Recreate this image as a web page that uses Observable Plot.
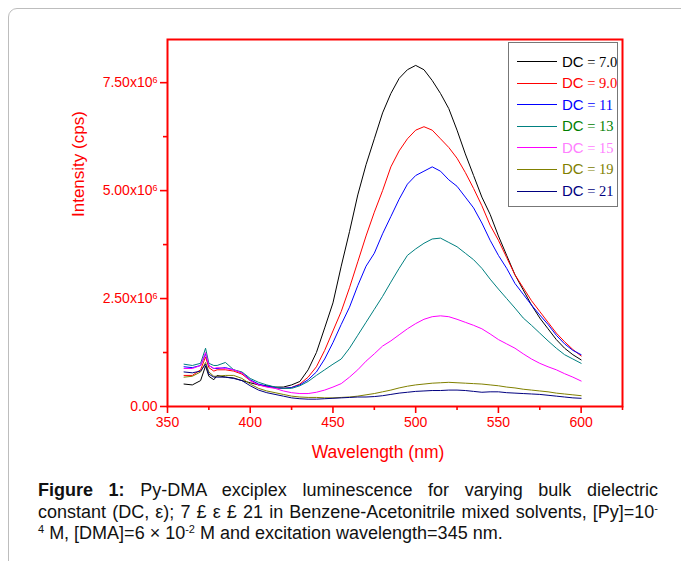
<!DOCTYPE html>
<html>
<head>
<meta charset="utf-8">
<script src="https://cdn.jsdelivr.net/npm/d3@7"></script>
<script src="https://cdn.jsdelivr.net/npm/@observablehq/plot@0.6"></script>
<style>
  html, body { margin: 0; padding: 0; }
  body { width: 681px; height: 561px; overflow: hidden; background: #fff; position: relative;
         font-family: "Liberation Sans", Arial, sans-serif; }
  #frame { position: absolute; left: 8px; top: 8px; width: 740px; height: 620px;
           border: 1.5px solid #bdbdbd; border-radius: 9px; }
  #chart { position: absolute; left: 0; top: 0; }
  #legend { position: absolute; left: 508px; top: 42px; width: 110px; height: 165px;
            border: 1px solid #777; box-sizing: border-box; background: #fff; }
  .row { position: absolute; left: 0; height: 20px; display: flex; align-items: center; white-space: nowrap; }
  .swatch { width: 40px; height: 1px; margin-left: 8px; margin-right: 5px; }
  .dc { font-family: "Liberation Sans", Arial, sans-serif; font-size: 15px; }
  .eq { font-family: "Liberation Serif", "Times New Roman", serif; font-size: 14.5px; }
  #caption { position: absolute; left: 38px; top: 480px; width: 620px; color: #111;
             font-family: "Liberation Sans", Arial, sans-serif;
             font-size: 18px; line-height: 21.5px; }
  #caption .ln { white-space: nowrap; }
  #caption .j { text-align: justify; text-align-last: justify; }
  #caption sup { font-size: 11px; vertical-align: 6px; line-height: 0; }
</style>
</head>
<body>
<div id="frame"></div>
<div id="chart"></div>
<div id="legend"></div>
<div id="caption">
  <div class="ln j"><b>Figure 1:</b> Py-DMA exciplex luminescence for varying bulk dielectric</div>
  <div class="ln j">constant (DC, ε); 7 £ ε £ 21 in Benzene-Acetonitrile mixed solvents, [Py]=10<sup>-</sup></div>
  <div class="ln"><sup>4</sup> M, [DMA]=6 × 10<sup>-2</sup> M and excitation wavelength=345 nm.</div>
</div>
<script>
// Wavelength (nm) sample points
const wavelengths = [360,365,370,373,375,378,380,385,390,395,400,405,410,415,
  420,425,430,435,440,445,450,455,460,465,470,475,480,485,490,495,500,505,510,515,520,
  525,530,535,540,545,550,555,560,565,570,575,580,585,590,595,600];

// Intensities in units of 1e6 cps
const dc7 = [0.52,0.50,0.60,0.94,0.70,0.62,0.72,0.68,0.66,0.60,0.55,0.50,0.48,0.45,
  0.45,0.50,0.58,0.85,1.25,1.82,2.4,3.25,4.05,4.9,5.6,6.2,6.8,7.25,7.6,7.8,7.9,7.8,7.55,7.25,6.9,
  6.4,5.85,5.35,4.85,4.45,3.95,3.5,3.05,2.7,2.35,2.05,1.8,1.55,1.35,1.2,1.08];
const dc9 = [0.72,0.72,0.85,1.15,0.90,0.82,0.85,0.85,0.82,0.75,0.60,0.50,0.46,0.43,
  0.42,0.44,0.52,0.68,0.92,1.3,1.75,2.2,2.75,3.35,3.95,4.5,5.0,5.55,5.92,6.2,6.4,6.48,6.4,6.2,6.0,
  5.75,5.42,5.05,4.65,4.2,3.85,3.45,3.05,2.75,2.45,2.2,1.95,1.7,1.5,1.32,1.17];
const dc11 = [0.92,0.90,0.95,1.22,0.95,0.88,0.88,0.90,0.85,0.78,0.62,0.52,0.47,0.44,
  0.42,0.44,0.50,0.62,0.80,1.1,1.48,1.9,2.3,2.8,3.25,3.55,4.0,4.4,4.8,5.15,5.35,5.45,5.55,5.45,5.25,
  5.1,4.85,4.6,4.25,3.85,3.5,3.2,2.85,2.6,2.35,2.12,1.9,1.65,1.45,1.3,1.2];
const dc13 = [0.98,0.95,1.00,1.35,1.00,0.95,0.95,1.02,0.85,0.80,0.65,0.56,0.50,0.45,
  0.42,0.42,0.48,0.58,0.72,0.85,0.98,1.1,1.35,1.65,1.95,2.25,2.55,2.88,3.2,3.5,3.65,3.78,3.88,3.9,3.8,
  3.7,3.55,3.4,3.2,2.95,2.72,2.5,2.28,2.05,1.88,1.7,1.52,1.35,1.2,1.1,1.0];
const dc15 = [0.88,0.88,0.95,1.25,0.95,0.88,0.90,0.88,0.85,0.78,0.60,0.50,0.45,0.42,
  0.36,0.32,0.30,0.30,0.33,0.38,0.45,0.53,0.68,0.85,1.05,1.22,1.4,1.52,1.66,1.8,1.92,2.02,2.08,2.1,2.08,
  2.02,1.95,1.88,1.8,1.68,1.55,1.45,1.35,1.22,1.1,1.0,0.92,0.85,0.76,0.68,0.59];
const dc19 = [0.68,0.70,0.80,1.02,0.80,0.70,0.70,0.72,0.72,0.65,0.52,0.42,0.36,0.32,
  0.28,0.24,0.22,0.21,0.21,0.20,0.20,0.21,0.22,0.24,0.27,0.30,0.34,0.38,0.43,0.47,0.50,0.52,0.54,0.55,0.56,
  0.55,0.54,0.53,0.52,0.50,0.48,0.45,0.43,0.40,0.38,0.36,0.34,0.31,0.29,0.27,0.25];
const dc21 = [0.80,0.78,0.82,0.98,0.75,0.68,0.68,0.68,0.65,0.60,0.48,0.38,0.32,0.28,
  0.24,0.20,0.18,0.17,0.17,0.18,0.19,0.20,0.21,0.22,0.22,0.23,0.25,0.28,0.31,0.33,0.35,0.36,0.37,0.37,0.38,
  0.38,0.37,0.35,0.33,0.34,0.34,0.32,0.31,0.30,0.29,0.28,0.26,0.24,0.22,0.20,0.19];

const seriesNames = ["7.0","9.0","11","13","15","19","21"];
const seriesValues = [dc7, dc9, dc11, dc13, dc15, dc19, dc21];
const lineColors = ["#000000","#ff0000","#0000ff","#008080","#ff00ff","#808000","#000080"];
const labelColors = ["#000000","#ff0000","#0000ff","#008000","#ff80ff","#808000","#000080"];

const xMajorTicks = [350,400,450,500,550,600];
const xMinorTicks = [375,425,475,525,575,625];
const yMajorTicks = [0,2.5e6,5e6,7.5e6];
const yMinorTicks = [1.25e6,3.75e6,6.25e6];

const xTitle = "Wavelength (nm)";
const yTitle = "Intensity (cps)";

const data = [];
seriesNames.forEach((name, s) => {
  seriesValues[s].forEach((v, i) => data.push({nm: wavelengths[i], I: v * 1e6, dc: name}));
});

const yFmt = d => d === 0 ? "0.00" : (d / 1e6).toFixed(2) + "x10^6";

const chart = Plot.plot({
  width: 681, height: 470,
  marginLeft: 167, marginRight: 59, marginTop: 39, marginBottom: 64,
  style: {fontFamily: "'Liberation Sans', Arial, sans-serif", color: "red", background: "transparent", overflow: "visible"},
  x: {domain: [350, 625]},
  y: {domain: [0, 8.5e6]},
  color: {domain: seriesNames, range: lineColors},
  marks: [
    Plot.line(data, {x: "nm", y: "I", z: "dc", stroke: "dc", strokeWidth: 1, curve: "linear"}),
    Plot.frame({stroke: "red", strokeWidth: 2}),
    Plot.axisX({ticks: xMajorTicks, tickSize: 7, tickPadding: 4, fontSize: 14, strokeWidth: 1.6, label: null}),
    Plot.axisX({ticks: xMinorTicks, tickSize: 4, tickFormat: () => "", strokeWidth: 1.6, label: null}),
    Plot.axisY({ticks: yMajorTicks, tickSize: 7, tickPadding: 3, fontSize: 14, strokeWidth: 1.6, tickFormat: yFmt, label: null}),
    Plot.axisY({ticks: yMinorTicks, tickSize: 4, tickFormat: () => "", strokeWidth: 1.6, label: null}),
    Plot.text([xTitle], {text: d => d, frameAnchor: "bottom", dx: -17, dy: 51, fontSize: 17.5, fill: "red"}),
    Plot.text([yTitle], {text: d => d, frameAnchor: "left", rotate: -90, dx: -89, dy: -6, fontSize: 17, fill: "red"})
  ]
});

// superscript exponent on y tick labels
d3.select(chart).selectAll("text").each(function() {
  const t = d3.select(this);
  const s = t.text();
  if (s.includes("^")) {
    const [a, b] = s.split("^");
    t.text(a);
    t.append("tspan").attr("dy", "-0.5em").attr("font-size", 9).text(b);
  }
});
document.getElementById("chart").appendChild(chart);

// legend
const legend = d3.select("#legend");
seriesNames.forEach((name, i) => {
  const row = legend.append("div").attr("class", "row").style("top", (8.7 + i * 21.55) + "px");
  row.append("div").attr("class", "swatch").style("background", lineColors[i]);
  const lab = row.append("span").style("color", labelColors[i]);
  lab.append("span").attr("class", "dc").text("DC");
  lab.append("span").attr("class", "eq").text(" = " + name);
});
</script>
</body>
</html>
